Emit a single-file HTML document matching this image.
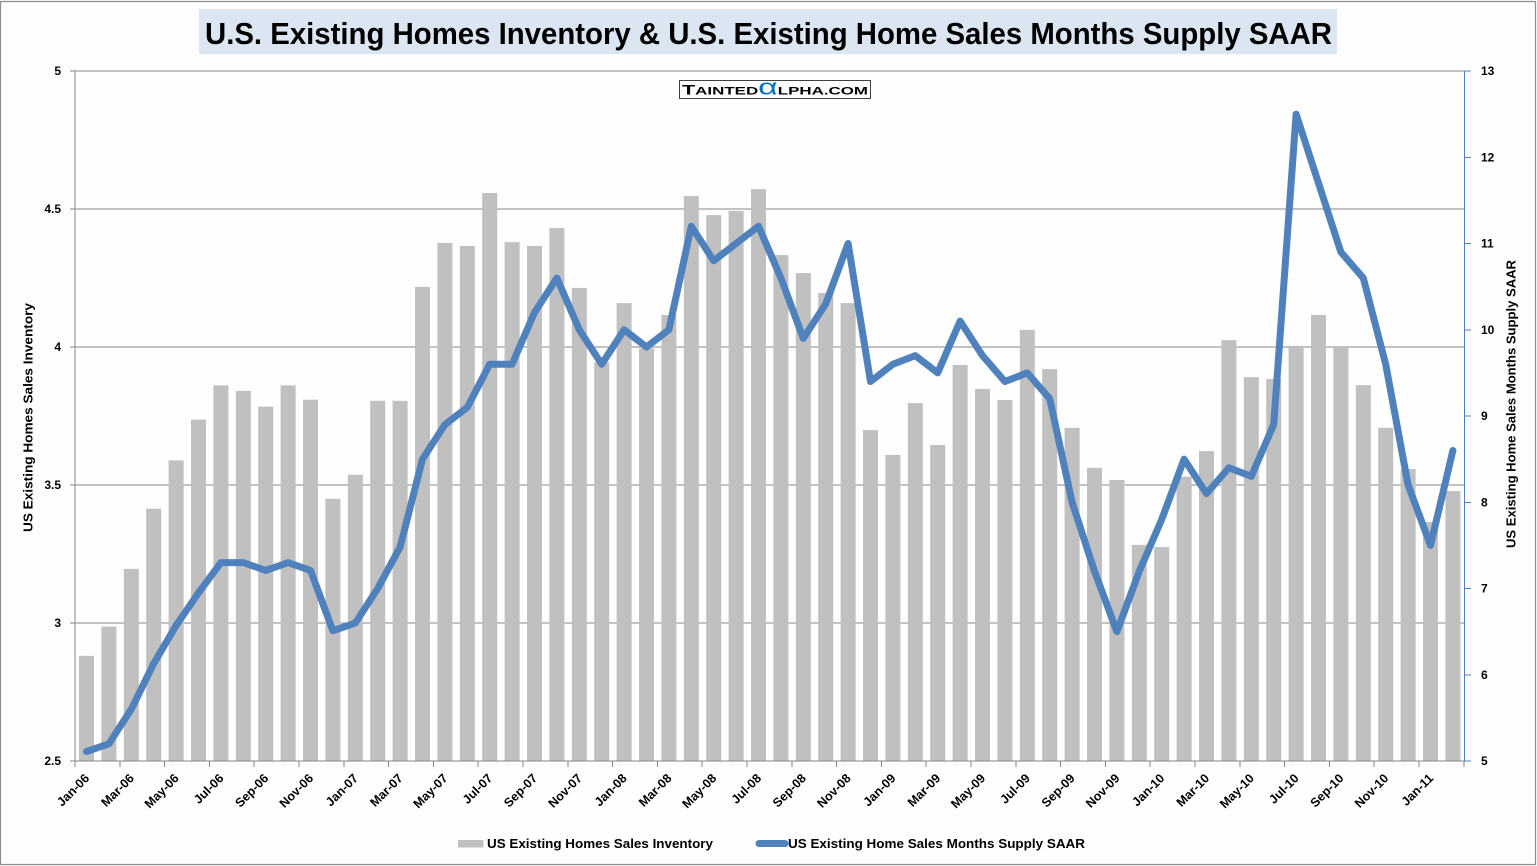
<!DOCTYPE html>
<html>
<head>
<meta charset="utf-8">
<style>
  html, body { margin:0; padding:0; background:#fdfefd; }
  svg { display:block; }
  text { font-family: "Liberation Sans", "DejaVu Sans", sans-serif; font-weight: bold; fill:#000; }
</style>
</head>
<body>
<svg width="1537" height="866" viewBox="0 0 1537 866" xmlns="http://www.w3.org/2000/svg">
  <rect x="0" y="0" width="1537" height="866" fill="#fdfefd"/>
  <rect x="0.5" y="1.5" width="1535" height="863" fill="none" stroke="#8c8c8c" stroke-width="1.2"/>

  <!-- Title -->
  <rect x="199" y="9" width="1138" height="45" fill="#dce6f2"/>
  <text x="205" y="44" font-size="31" textLength="1127" lengthAdjust="spacingAndGlyphs">U.S. Existing Homes Inventory &amp; U.S. Existing Home Sales Months Supply SAAR</text>

  <!-- Gridlines -->
  <g stroke="#868686" stroke-width="1" shape-rendering="crispEdges">
    <line x1="70" y1="71" x2="1464" y2="71"/>
    <line x1="70" y1="209" x2="1464" y2="209"/>
    <line x1="70" y1="347" x2="1464" y2="347"/>
    <line x1="70" y1="485" x2="1464" y2="485"/>
    <line x1="70" y1="623" x2="1464" y2="623"/>
    <line x1="70" y1="761" x2="1464" y2="761"/>
  </g>

  <!-- Bars -->
  <g transform="translate(79,761) scale(22.4,-276)" fill="#c0c0c0">
    <rect x="0" y="0" width="0.67" height="0.381"/>
    <rect x="1" y="0" width="0.67" height="0.487"/>
    <rect x="2" y="0" width="0.67" height="0.696"/>
    <rect x="3" y="0" width="0.67" height="0.914"/>
    <rect x="4" y="0" width="0.67" height="1.089"/>
    <rect x="5" y="0" width="0.67" height="1.237"/>
    <rect x="6" y="0" width="0.67" height="1.361"/>
    <rect x="7" y="0" width="0.67" height="1.341"/>
    <rect x="8" y="0" width="0.67" height="1.284"/>
    <rect x="9" y="0" width="0.67" height="1.361"/>
    <rect x="10" y="0" width="0.67" height="1.309"/>
    <rect x="11" y="0" width="0.67" height="0.950"/>
    <rect x="12" y="0" width="0.67" height="1.037"/>
    <rect x="13" y="0" width="0.67" height="1.305"/>
    <rect x="14" y="0" width="0.67" height="1.305"/>
    <rect x="15" y="0" width="0.67" height="1.718"/>
    <rect x="16" y="0" width="0.67" height="1.877"/>
    <rect x="17" y="0" width="0.67" height="1.866"/>
    <rect x="18" y="0" width="0.67" height="2.058"/>
    <rect x="19" y="0" width="0.67" height="1.880"/>
    <rect x="20" y="0" width="0.67" height="1.866"/>
    <rect x="21" y="0" width="0.67" height="1.931"/>
    <rect x="22" y="0" width="0.67" height="1.714"/>
    <rect x="23" y="0" width="0.67" height="1.445"/>
    <rect x="24" y="0" width="0.67" height="1.659"/>
    <rect x="25" y="0" width="0.67" height="1.495"/>
    <rect x="26" y="0" width="0.67" height="1.616"/>
    <rect x="27" y="0" width="0.67" height="2.047"/>
    <rect x="28" y="0" width="0.67" height="1.978"/>
    <rect x="29" y="0" width="0.67" height="1.993"/>
    <rect x="30" y="0" width="0.67" height="2.072"/>
    <rect x="31" y="0" width="0.67" height="1.833"/>
    <rect x="32" y="0" width="0.67" height="1.768"/>
    <rect x="33" y="0" width="0.67" height="1.696"/>
    <rect x="34" y="0" width="0.67" height="1.659"/>
    <rect x="35" y="0" width="0.67" height="1.199"/>
    <rect x="36" y="0" width="0.67" height="1.109"/>
    <rect x="37" y="0" width="0.67" height="1.297"/>
    <rect x="38" y="0" width="0.67" height="1.145"/>
    <rect x="39" y="0" width="0.67" height="1.435"/>
    <rect x="40" y="0" width="0.67" height="1.348"/>
    <rect x="41" y="0" width="0.67" height="1.308"/>
    <rect x="42" y="0" width="0.67" height="1.562"/>
    <rect x="43" y="0" width="0.67" height="1.420"/>
    <rect x="44" y="0" width="0.67" height="1.207"/>
    <rect x="45" y="0" width="0.67" height="1.062"/>
    <rect x="46" y="0" width="0.67" height="1.018"/>
    <rect x="47" y="0" width="0.67" height="0.783"/>
    <rect x="48" y="0" width="0.67" height="0.775"/>
    <rect x="49" y="0" width="0.67" height="1.030"/>
    <rect x="50" y="0" width="0.67" height="1.123"/>
    <rect x="51" y="0" width="0.67" height="1.525"/>
    <rect x="52" y="0" width="0.67" height="1.391"/>
    <rect x="53" y="0" width="0.67" height="1.384"/>
    <rect x="54" y="0" width="0.67" height="1.504"/>
    <rect x="55" y="0" width="0.67" height="1.616"/>
    <rect x="56" y="0" width="0.67" height="1.500"/>
    <rect x="57" y="0" width="0.67" height="1.362"/>
    <rect x="58" y="0" width="0.67" height="1.207"/>
    <rect x="59" y="0" width="0.67" height="1.058"/>
    <rect x="60" y="0" width="0.67" height="0.866"/>
    <rect x="61" y="0" width="0.67" height="0.978"/>
  </g>

  <!-- Axes -->
  <g stroke="#868686" stroke-width="1" shape-rendering="crispEdges" fill="none">
    <line x1="75" y1="71" x2="75" y2="761"/>
    <line x1="75" y1="761" x2="1464" y2="761"/>
    <path d="M75 761v6M119.8 761v6M164.6 761v6M209.4 761v6M254.2 761v6M299 761v6M343.8 761v6M388.6 761v6M433.4 761v6M478.2 761v6M523 761v6M567.8 761v6M612.6 761v6M657.4 761v6M702.2 761v6M747 761v6M791.8 761v6M836.6 761v6M881.4 761v6M926.2 761v6M971 761v6M1015.8 761v6M1060.6 761v6M1105.4 761v6M1150.2 761v6M1195 761v6M1239.8 761v6M1284.6 761v6M1329.4 761v6M1374.2 761v6M1419 761v6M1463.8 761v6"/>
  </g>
  <g stroke="#4f81bd" stroke-width="1" shape-rendering="crispEdges" fill="none">
    <line x1="1464.5" y1="71" x2="1464.5" y2="761"/>
    <path d="M1464 71h7M1464 157.25h7M1464 243.5h7M1464 329.75h7M1464 416h7M1464 502.25h7M1464 588.5h7M1464 674.75h7M1464 761h7"/>
  </g>

  <!-- Line series -->
  <g transform="translate(86.5,1192.25) scale(22.4,-86.25)">
    <polyline fill="none" stroke="#4f81bd" stroke-width="7" stroke-linejoin="round" stroke-linecap="round" vector-effect="non-scaling-stroke"
      points="0,5.11 1,5.2 2,5.6 3,6.13 4,6.57 5,6.95 6,7.3 7,7.3 8,7.21 9,7.3 10,7.21 11,6.51 12,6.6 13,7.0 14,7.48 15,8.5 16,8.9 17,9.1 18,9.6 19,9.6 20,10.2 21,10.6 22,10.0 23,9.6 24,10.0 25,9.8 26,10.0 27,11.2 28,10.8 29,11.0 30,11.2 31,10.6 32,9.9 33,10.3 34,11.0 35,9.4 36,9.6 37,9.7 38,9.5 39,10.1 40,9.7 41,9.4 42,9.5 43,9.2 44,8.0 45,7.2 46,6.5 47,7.2 48,7.8 49,8.5 50,8.1 51,8.4 52,8.3 53,8.9 54,12.5 55,11.7 56,10.9 57,10.6 58,9.6 59,8.2 60,7.5 61,8.6"/>
  </g>

  <!-- Logo -->
  <rect x="679.5" y="80.5" width="191" height="18" fill="#ffffff" stroke="#404040" stroke-width="1"/>
  <text x="682" y="94.5" textLength="186" lengthAdjust="spacingAndGlyphs" font-size="11" fill="#111"><tspan font-size="14">T</tspan>AINTED<tspan font-size="22" fill="#0070c0" font-weight="normal">α</tspan>LPHA.COM</text>

  <!-- Left tick labels -->
  <g font-size="12" text-anchor="end">
    <text x="61" y="75">5</text>
    <text x="61" y="213">4.5</text>
    <text x="61" y="351">4</text>
    <text x="61" y="489">3.5</text>
    <text x="61" y="627">3</text>
    <text x="61" y="765">2.5</text>
  </g>
  <!-- Right tick labels -->
  <g font-size="12" text-anchor="start">
    <text x="1481" y="75">13</text>
    <text x="1481" y="161.25">12</text>
    <text x="1481" y="247.5">11</text>
    <text x="1481" y="333.75">10</text>
    <text x="1481" y="420">9</text>
    <text x="1481" y="506.25">8</text>
    <text x="1481" y="592.5">7</text>
    <text x="1481" y="678.75">6</text>
    <text x="1481" y="765">5</text>
  </g>

  <!-- Axis titles -->
  <text x="0" y="0" font-size="12.5" text-anchor="middle" textLength="229" lengthAdjust="spacingAndGlyphs" transform="translate(32.5,417.5) rotate(-90)">US Existing Homes Sales Inventory</text>
  <text x="0" y="0" font-size="12.5" text-anchor="middle" textLength="288" lengthAdjust="spacingAndGlyphs" transform="translate(1515.5,404) rotate(-90)">US Existing Home Sales Months Supply SAAR</text>

  <!-- X labels -->
  <g font-size="12.5" text-anchor="end">
    <text x="90" y="779" transform="rotate(-45 90 779)">Jan-06</text>
    <text x="134.8" y="779" transform="rotate(-45 134.8 779)">Mar-06</text>
    <text x="179.6" y="779" transform="rotate(-45 179.6 779)">May-06</text>
    <text x="224.4" y="779" transform="rotate(-45 224.4 779)">Jul-06</text>
    <text x="269.2" y="779" transform="rotate(-45 269.2 779)">Sep-06</text>
    <text x="314" y="779" transform="rotate(-45 314 779)">Nov-06</text>
    <text x="358.8" y="779" transform="rotate(-45 358.8 779)">Jan-07</text>
    <text x="403.6" y="779" transform="rotate(-45 403.6 779)">Mar-07</text>
    <text x="448.4" y="779" transform="rotate(-45 448.4 779)">May-07</text>
    <text x="493.2" y="779" transform="rotate(-45 493.2 779)">Jul-07</text>
    <text x="538" y="779" transform="rotate(-45 538 779)">Sep-07</text>
    <text x="582.8" y="779" transform="rotate(-45 582.8 779)">Nov-07</text>
    <text x="627.6" y="779" transform="rotate(-45 627.6 779)">Jan-08</text>
    <text x="672.4" y="779" transform="rotate(-45 672.4 779)">Mar-08</text>
    <text x="717.2" y="779" transform="rotate(-45 717.2 779)">May-08</text>
    <text x="762" y="779" transform="rotate(-45 762 779)">Jul-08</text>
    <text x="806.8" y="779" transform="rotate(-45 806.8 779)">Sep-08</text>
    <text x="851.6" y="779" transform="rotate(-45 851.6 779)">Nov-08</text>
    <text x="896.4" y="779" transform="rotate(-45 896.4 779)">Jan-09</text>
    <text x="941.2" y="779" transform="rotate(-45 941.2 779)">Mar-09</text>
    <text x="986" y="779" transform="rotate(-45 986 779)">May-09</text>
    <text x="1030.8" y="779" transform="rotate(-45 1030.8 779)">Jul-09</text>
    <text x="1075.6" y="779" transform="rotate(-45 1075.6 779)">Sep-09</text>
    <text x="1120.4" y="779" transform="rotate(-45 1120.4 779)">Nov-09</text>
    <text x="1165.2" y="779" transform="rotate(-45 1165.2 779)">Jan-10</text>
    <text x="1210" y="779" transform="rotate(-45 1210 779)">Mar-10</text>
    <text x="1254.8" y="779" transform="rotate(-45 1254.8 779)">May-10</text>
    <text x="1299.6" y="779" transform="rotate(-45 1299.6 779)">Jul-10</text>
    <text x="1344.4" y="779" transform="rotate(-45 1344.4 779)">Sep-10</text>
    <text x="1389.2" y="779" transform="rotate(-45 1389.2 779)">Nov-10</text>
    <text x="1434" y="779" transform="rotate(-45 1434 779)">Jan-11</text>
  </g>

  <!-- Legend -->
  <rect x="458" y="840" width="25.5" height="7.5" fill="#c0c0c0"/>
  <text x="487" y="848" font-size="12.5" textLength="226" lengthAdjust="spacingAndGlyphs">US Existing Homes Sales Inventory</text>
  <line x1="759" y1="843.5" x2="785" y2="843.5" stroke="#4f81bd" stroke-width="7" stroke-linecap="round"/>
  <text x="788" y="848" font-size="12.5" textLength="297" lengthAdjust="spacingAndGlyphs">US Existing Home Sales Months Supply SAAR</text>
</svg>
</body>
</html>
